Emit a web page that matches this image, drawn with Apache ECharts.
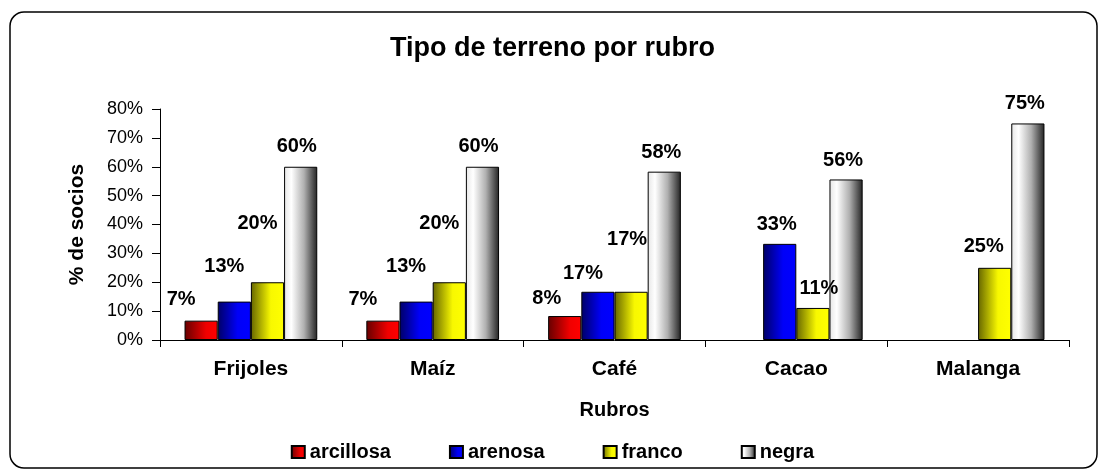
<!DOCTYPE html>
<html>
<head>
<meta charset="utf-8">
<script src="https://cdn.jsdelivr.net/npm/echarts@6/dist/echarts.min.js"></script>
<style>
  html, body { margin: 0; padding: 0; background: #fff; }
  #chart { width: 1105px; height: 475px; }
</style>
</head>
<body>
<div id="chart"></div>
<script>
// datos (% de socios)
const rubros = ['Frijoles', 'Maíz', 'Café', 'Cacao', 'Malanga']
const arcillosa = [6.7, 6.7, 8.3, 0, 0]
const arenosa = [13.3, 13.3, 16.7, 33.3, 0]
const franco = [20, 20, 16.7, 11.1, 25]
const negra = [60, 60, 58.3, 55.6, 75]
const yTicks = [0, 10, 20, 30, 40, 50, 60, 70, 80]

// desplazamiento manual de etiquetas [dx, separación] como en el original
const labelShift = {
  arcillosa: [[-20, 15], [-20, 15], [-18, 12], [0, 0], [0, 0]],
  arenosa: [[-10, 29], [-10, 29], [-15, 12], [-3, 13], [0, 0]],
  franco: [[-10, 53], [-10, 53], [-4, 46], [6, 13], [-11, 15]],
  negra: [[-4, 14], [-4, 14], [-3, 13], [-3, 13], [-3, 14]]
}

const font = "'Liberation Sans', Arial, sans-serif"

function grad(stops) {
  return new echarts.graphic.LinearGradient(0, 0, 1, 0,
    stops.map(s => ({ offset: s[0], color: s[1] })))
}

const fills = {
  arcillosa: grad([[0, '#660000'], [0.65, '#f00000'], [1, '#ff0000']]),
  arenosa: grad([[0, '#000066'], [0.6, '#0000f8'], [1, '#0000ff']]),
  franco: grad([[0, '#666600'], [0.6, '#f8f800'], [1, '#ffff00']]),
  negra: grad([[0, '#e6e6e6'], [0.22, '#ffffff'], [0.6, '#b0b0b0'], [1, '#222222']])
}

function makeSeries(name, values) {
  return {
    name: name,
    type: 'bar',
    barGap: '0%',
    barCategoryGap: '27%',
    itemStyle: { color: fills[name], borderColor: '#000', borderWidth: 1 },
    data: values.map((v, i) => {
      const s = labelShift[name][i]
      return {
        value: v > 0 ? v : '-',
        label: {
          show: v > 0,
          position: 'top',
          distance: 0,
          offset: [s[0], -(s[1] - 4)]
        }
      }
    }),
    label: {
      fontFamily: font,
      fontWeight: 'bold',
      fontSize: 20,
      color: '#000',
      formatter: p => Math.round(p.value) + '%'
    }
  }
}

const chart = echarts.init(document.getElementById('chart'))

const option = {
  animation: false,
  textStyle: { fontFamily: font },
  graphic: [{
    type: 'rect',
    shape: { x: 10, y: 12, width: 1087, height: 456, r: 14 },
    style: { fill: 'none', stroke: '#000', lineWidth: 1.5 },
    z: -1
  }],
  title: {
    text: 'Tipo de terreno por rubro',
    left: 'center',
    top: 30,
    textStyle: { fontFamily: font, fontSize: 27, fontWeight: 'bold', color: '#000' }
  },
  legend: {
    bottom: 8,
    left: 'center',
    icon: 'rect',
    itemWidth: 13,
    itemHeight: 12,
    itemGap: 58,
    textStyle: { fontFamily: font, fontSize: 20, fontWeight: 'bold', color: '#000' },
    data: ['arcillosa', 'arenosa', 'franco', 'negra']
  },
  grid: { left: 160, right: 36, top: 109, bottom: 135 },
  xAxis: {
    type: 'category',
    data: rubros,
    name: 'Rubros',
    nameLocation: 'middle',
    nameGap: 60,
    nameTextStyle: { fontFamily: font, fontSize: 20, fontWeight: 'bold', color: '#000' },
    axisLine: { lineStyle: { color: '#000', width: 1 } },
    axisTick: { show: true, length: 7, lineStyle: { color: '#000' } },
    axisLabel: { fontFamily: font, fontSize: 21, fontWeight: 'bold', color: '#000', margin: 19 }
  },
  yAxis: {
    type: 'value',
    min: yTicks[0],
    max: yTicks[yTicks.length - 1],
    interval: yTicks[1] - yTicks[0],
    name: '% de socios',
    nameLocation: 'middle',
    nameRotate: 90,
    nameGap: 72,
    nameTextStyle: { fontFamily: font, fontSize: 21, fontWeight: 'bold', color: '#000' },
    axisLine: { show: true, lineStyle: { color: '#000', width: 1 } },
    axisTick: { show: true, length: 8, lineStyle: { color: '#000' } },
    splitLine: { show: false },
    axisLabel: { fontFamily: font, fontSize: 18, color: '#000', margin: 17, formatter: '{value}%' }
  },
  series: [
    makeSeries('arcillosa', arcillosa),
    makeSeries('arenosa', arenosa),
    makeSeries('franco', franco),
    makeSeries('negra', negra)
  ]
}

chart.setOption(option)
</script>
</body>
</html>
